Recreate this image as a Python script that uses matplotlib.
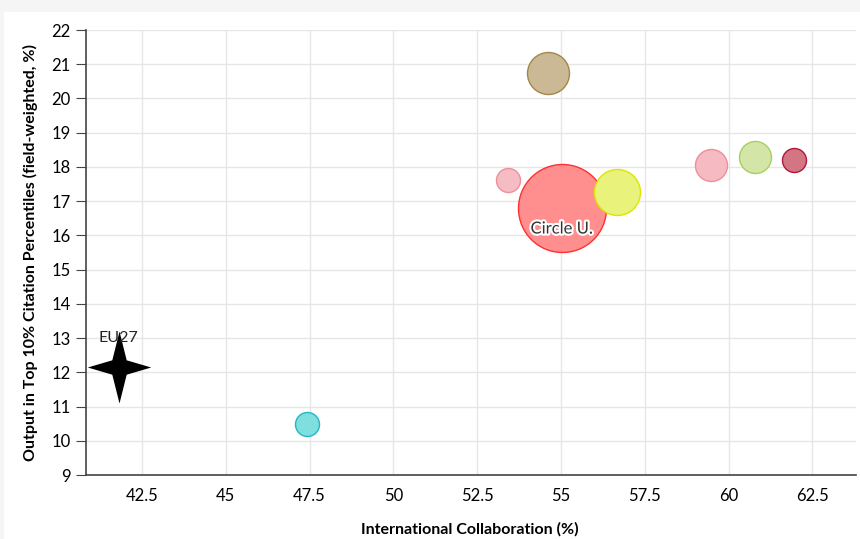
"""Bubble chart: international collaboration vs top-10% citation output."""
import matplotlib
matplotlib.use("Agg")
import matplotlib.pyplot as plt
import matplotlib.patheffects as pe
from matplotlib.path import Path
from matplotlib.patches import Rectangle

plt.rcParams['font.family'] = ['Lato', 'DejaVu Sans']

# data
names = ['A', 'B', 'C', 'Circle U.', 'D', 'E', 'F', 'G']
collab = [47.42, 54.6, 53.42, 55.02, 56.66, 59.49, 60.8, 61.96]
top10 = [10.49, 20.74, 17.62, 16.8, 17.27, 18.06, 18.29, 18.2]
output = [12, 21, 12, 44, 23, 16, 16, 12]  # bubble radius scale
fills = ['#7fdede', '#cbb995', '#f6bcc4', '#ff8f8f', '#e9f27a',
         '#f6bac2', '#d3e6a8', '#d27684']
edges = ['#22b8c8', '#a3874a', '#ef8e9c', '#ff3030', '#dce600',
         '#ef8e9c', '#a6d05e', '#b5163a']
eu_collab = 41.81
eu_top10 = 12.15

xticks = [42.5, 45, 47.5, 50, 52.5, 55, 57.5, 60, 62.5]
yticks = list(range(9, 23))

# four-point star, taller than wide
star = Path([(0, 1.0), (0.2, 0.2), (0.88, 0), (0.2, -0.2), (0, -1.0),
             (-0.2, -0.2), (-0.88, 0), (-0.2, 0.2), (0, 1.0)],
            [Path.MOVETO] + [Path.LINETO] * 7 + [Path.CLOSEPOLY])

fig = plt.figure(figsize=(8.6, 5.39), dpi=100, facecolor='#f5f5f5')
fig.patches.append(Rectangle((4 / 860, 0), 1, 1 - 12 / 539, transform=fig.transFigure,
                             facecolor='white', edgecolor='none', zorder=-10))
ax = fig.add_axes([0.1, 0.1187, 0.8953, 0.8256])
ax.set_facecolor('white')

sizes = [(2 * r * 0.72) ** 2 for r in output]
for x, y, s, fc, ec in zip(collab, top10, sizes, fills, edges):
    ax.scatter(x, y, s=s, facecolor=fc, edgecolor=ec, linewidth=1, zorder=3)

ax.scatter(eu_collab, eu_top10, marker=star, s=(72 * 0.72) ** 2, color='black',
           linewidth=0, zorder=4)
ax.text(eu_collab, eu_top10 + 0.85, 'EU27', ha='center', va='center', fontsize=11.5,
        color='#222222', zorder=5)

i = names.index('Circle U.')
ax.text(collab[i], top10[i] - 0.6, 'Circle U.', ha='center', va='center', fontsize=12,
        color='#333333', zorder=6,
        path_effects=[pe.withStroke(linewidth=3, foreground='white')])

ax.set_xlim(40.83, 63.8)
ax.set_ylim(9, 22)
ax.set_xticks(xticks)
ax.set_xticklabels([f'{t:g}' for t in xticks])
ax.set_yticks(yticks)
ax.grid(True, color='#e6e6e6', linewidth=1)
ax.set_axisbelow(True)
for side in ['top', 'right']:
    ax.spines[side].set_visible(False)
for side in ['left', 'bottom']:
    ax.spines[side].set_color('#444444')
    ax.spines[side].set_linewidth(1.2)
ax.tick_params(axis='y', length=7, color='#444444', labelsize=12, pad=4)
ax.tick_params(axis='x', length=0, labelsize=12, pad=9)

fig.text(470 / 860, 1 - 529 / 539, 'International Collaboration (%)', ha='center',
         va='center', fontsize=11.5, fontweight='bold')
ax.set_ylabel('Output in Top 10% Citation Percentiles (field-weighted, %)', fontsize=11.5,
              fontweight='bold', labelpad=10)

fig.savefig('out.png', dpi=100, facecolor=fig.get_facecolor())
